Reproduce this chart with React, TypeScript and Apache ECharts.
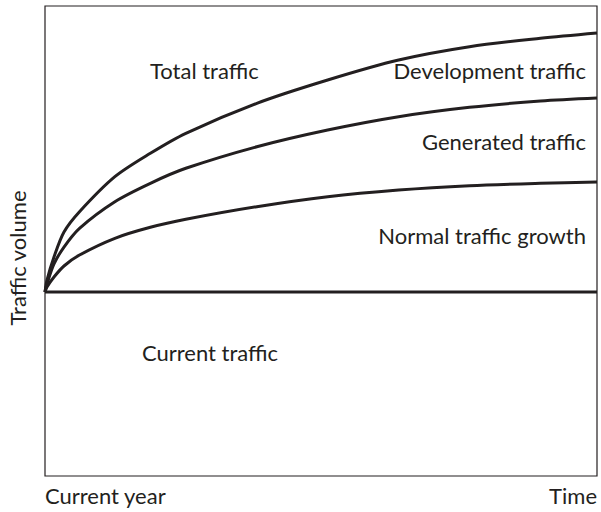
import React, { useEffect, useRef } from "react";
import * as echarts from "echarts";

const timePoints = [0, 0.36, 1.63, 3.44, 6.25, 12.66, 19.09, 25.51, 38.37, 51.21, 64.06, 76.9, 89.76, 100];
const totalTraffic = [39.15, 41.7, 46.6, 51.91, 56.23, 63.68, 68.66, 72.91, 79.3, 84.26, 88.51, 91.34, 93.13, 94.26];
const generatedTop = [39.15, 40.85, 45.11, 48.72, 52.7, 58.36, 62.28, 65.47, 70.06, 73.62, 76.45, 78.45, 79.79, 80.43];
const normalGrowth = [39.15, 40.21, 42.34, 44.68, 47.02, 50.57, 52.91, 54.62, 57.3, 59.43, 60.85, 61.77, 62.28, 62.55];
const currentTraffic = [39.15, 39.15];
const currentTimes = [0, 100];
const xTickLabels = ["Current year", "Time"];
const yAxisTitle = "Traffic volume";
const regionLabels = [
  "Total traffic",
  "Development traffic",
  "Generated traffic",
  "Normal traffic growth",
  "Current traffic",
];

const INK = "#231f20";
const FONT = "Lato, 'Open Sans', sans-serif";
const FS = 22;

export default function App() {
  const ref = useRef<HTMLDivElement>(null);
  useEffect(() => {
    if (!ref.current) return;
    const chart = echarts.init(ref.current, null, { renderer: "svg" });
    const pair = (xs: number[], ys: number[]) => xs.map((x, i) => [x, ys[i]]);
    const lineSeries = (data: number[][], smooth: boolean) => ({
      type: "line",
      data,
      smooth: smooth ? 0.3 : false,
      showSymbol: false,
      lineStyle: { color: INK, width: 3 },
      z: 3,
    });
    const txt = (text: string, x: number, y: number, align: string, rotation = 0) => ({
      type: "text",
      x,
      y,
      rotation,
      style: {
        text,
        fill: INK,
        font: `${FS}px ${FONT}`,
        textAlign: align,
        textVerticalAlign: "middle",
      },
    });
    chart.setOption({
      animation: false,
      grid: {
        left: 45,
        right: 4,
        top: 6,
        bottom: 36,
        containLabel: false,
        outerBoundsMode: "none",
        show: true,
        borderColor: INK,
        borderWidth: 1.2,
      },
      xAxis: {
        type: "value",
        min: 0,
        max: 100,
        interval: 100,
        axisLine: { show: false },
        axisTick: { show: false },
        splitLine: { show: false },
        axisLabel: {
          color: INK,
          fontSize: FS,
          fontFamily: FONT,
          margin: 8,
          alignMinLabel: "left",
          alignMaxLabel: "right",
          formatter: (v: number) => (v === 0 ? xTickLabels[0] : xTickLabels[1]),
        },
      },
      yAxis: {
        type: "value",
        min: 0,
        max: 100,
        axisLine: { show: false },
        axisTick: { show: false },
        splitLine: { show: false },
        axisLabel: { show: false },
      },
      series: [
        lineSeries(pair(currentTimes, currentTraffic), false),
        lineSeries(pair(timePoints, normalGrowth), true),
        lineSeries(pair(timePoints, generatedTop), true),
        lineSeries(pair(timePoints, totalTraffic), true),
      ],
      graphic: [
        txt(yAxisTitle, 17, 258, "center", Math.PI / 2),
        txt(regionLabels[0], 150, 70, "left"),
        txt(regionLabels[1], 586, 70, "right"),
        txt(regionLabels[2], 586, 141, "right"),
        txt(regionLabels[3], 586, 235, "right"),
        txt(regionLabels[4], 142, 352, "left"),
      ],
    });
    return () => chart.dispose();
  }, []);
  return <div ref={ref} style={{ width: 601, height: 512, position: "absolute", left: 0, top: 0 }} />;
}
